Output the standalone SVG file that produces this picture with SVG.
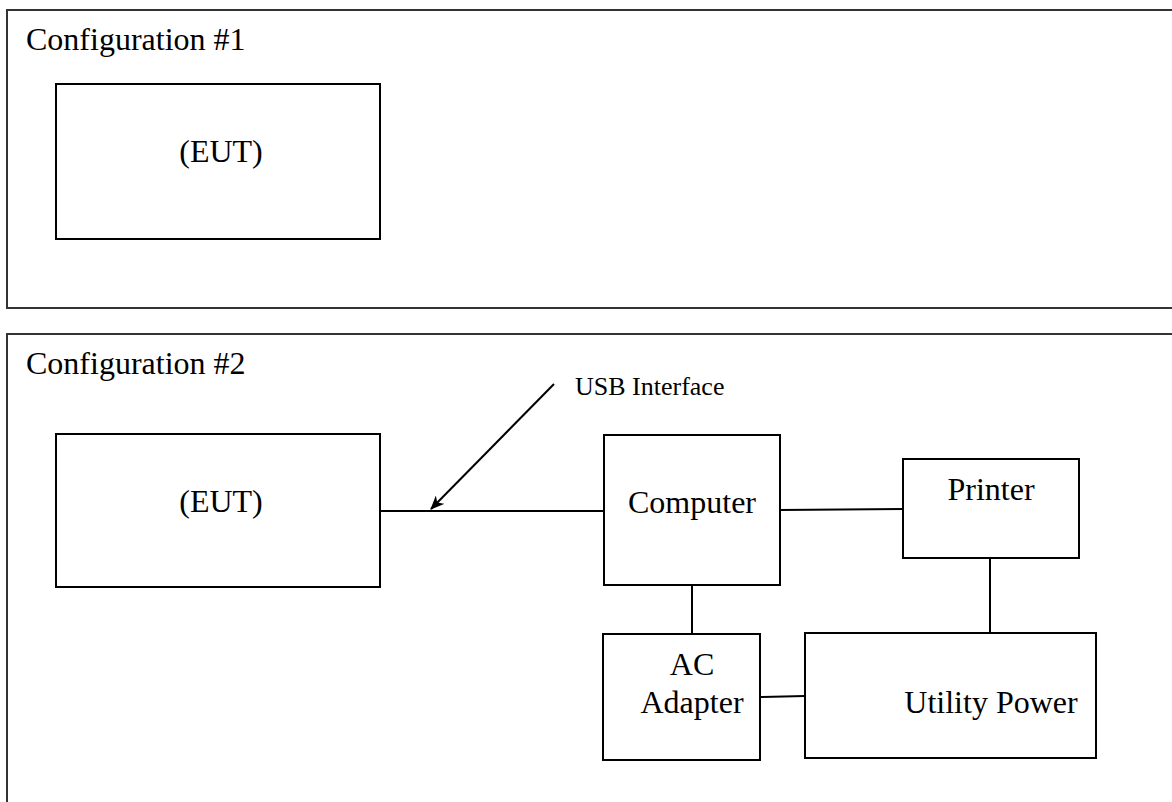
<svg xmlns="http://www.w3.org/2000/svg" width="1172" height="802" viewBox="0 0 1172 802">
<style>
.frame{fill:#fff;stroke:#333;stroke-width:2}
.box{fill:#fff;stroke:#000;stroke-width:2}
.t{font-family:"Liberation Serif",serif;fill:#000}
.lbl{font-size:32px}
.node{font-size:32px;text-anchor:middle}
.small{font-size:26px}
.c{stroke:#000;stroke-width:2;fill:none}
</style>
<defs>
<marker id="ah" markerWidth="14" markerHeight="12" refX="13" refY="6" orient="auto" markerUnits="userSpaceOnUse">
<path d="M0,0 L14,6 L0,12 L4,6 Z" fill="#000"/>
</marker>
</defs>
<rect width="1172" height="802" fill="#fff"/>
<g id="config1">
<rect class="frame" x="7" y="10" width="1180" height="298"/>
<text class="t lbl" x="26" y="50">Configuration #1</text>
</g>
<g id="config2">
<rect class="frame" x="7" y="334" width="1180" height="490"/>
<text class="t lbl" x="26" y="374">Configuration #2</text>
</g>
<g id="eut1">
<rect class="box" x="56" y="84" width="324" height="155"/>
<text class="t node" x="221" y="162">(EUT)</text>
</g>
<g id="eut2">
<rect class="box" x="56" y="434" width="324" height="153"/>
<text class="t node" x="221" y="512">(EUT)</text>
</g>
<g id="computer">
<rect class="box" x="604" y="435" width="176" height="150"/>
<text class="t node" x="692" y="513">Computer</text>
</g>
<g id="printer">
<rect class="box" x="903" y="459" width="176" height="99"/>
<text class="t node" x="991" y="500">Printer</text>
</g>
<g id="acadapter">
<rect class="box" x="603" y="634" width="157" height="126"/>
<text class="t node" x="692" y="675">AC</text>
<text class="t node" x="692" y="713">Adapter</text>
</g>
<g id="utility">
<rect class="box" x="805" y="633" width="291" height="125"/>
<text class="t node" x="991" y="713">Utility Power</text>
</g>
<g id="connectors">
<line class="c" x1="380" y1="511" x2="604" y2="511"/>
<line class="c" x1="780" y1="510" x2="903" y2="509"/>
<line class="c" x1="692" y1="585" x2="692" y2="634"/>
<line class="c" x1="990" y1="558" x2="990" y2="633"/>
<line class="c" x1="760" y1="697" x2="805" y2="696"/>
<line class="c" x1="554" y1="384" x2="431" y2="509" marker-end="url(#ah)"/>
<text class="t small" x="575" y="395">USB Interface</text>
</g>
</svg>
